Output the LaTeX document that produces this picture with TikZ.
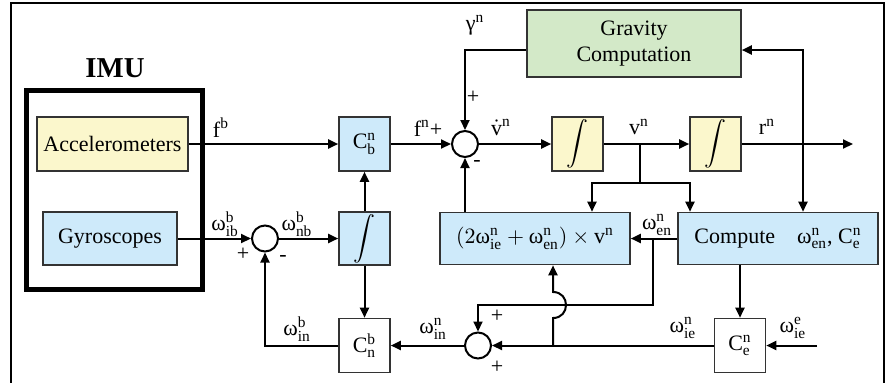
\documentclass[tikz,border=0pt]{standalone}
\usepackage{amsmath}
\usepackage{fontspec}
\setmainfont{Liberation Serif}
\usetikzlibrary{arrows.meta}
\definecolor{accyellow}{RGB}{251,247,204}
\definecolor{gyroblue}{RGB}{206,234,250}
\definecolor{gravgreen}{RGB}{211,233,200}
\definecolor{edgegray}{RGB}{51,51,51}
\newcommand{\sig}[2]{\ensuremath{\text{#1}^{\text{#2}}}}
\newcommand{\sigs}[3]{\ensuremath{\text{#1}^{\text{#2}}_{\text{#3}}}}

\begin{document}
\begin{tikzpicture}[
    x=0.5pt,y=-0.5pt,
    font=\fontsize{11}{13}\selectfont,
    box/.style={draw=edgegray,line width=0.8pt,inner sep=0pt,align=center},
    blk/.style={box,minimum width=25.5pt,minimum height=27pt},
    sum/.style={draw,circle,line width=1pt,minimum size=13pt,inner sep=0pt},
    lbl/.style={inner sep=0pt},
    line width=1pt,
    >={Triangle[length=5pt,width=4.5pt]}]
  \useasboundingbox (0,0) rectangle (894,382);
  \draw[line width=0.6pt] (11,392) -- (11,3) -- (884,3) -- (884,392);
  % IMU block
  \node[lbl,font=\fontsize{14.4}{16}\selectfont\bfseries] (imulbl) at (115,68) {IMU};
  \node[draw,line width=2.5pt,minimum width=88pt,minimum height=99.5pt] (imu) at (114.5,190) {};
  \node[box,fill=accyellow,minimum width=75.5pt,minimum height=27pt] (acc) at (112.5,144) {Accelerometers};
  \node[box,fill=gyroblue,minimum width=67pt,minimum height=26.5pt] (gyro) at (110,238.5) {Gyroscopes};
  % attitude
  \node[blk,fill=gyroblue] (cbn) at (364.5,144) {\sigs{C}{n}{b}};
  \node[blk,fill=gyroblue,minimum height=26.5pt] (intb) at (364.5,238.5) {$\displaystyle\int$};
  \node[blk,fill=white] (cnb) at (364.5,345.5) {\sigs{C}{b}{n}};
  \node[sum] (sum0) at (265,238.5) {};
  \node[sum] (sum1) at (465,144) {};
  \node[sum] (sum2) at (478,345.5) {};
  % velocity and position
  \node[box,fill=gravgreen,minimum width=107pt,minimum height=33.5pt] (grav) at (634,43.5) {Gravity\\Computation};
  \node[blk,fill=accyellow] (int1) at (577.5,144) {$\displaystyle\int$};
  \node[blk,fill=accyellow] (int2) at (715.5,144) {$\displaystyle\int$};
  \node[box,fill=gyroblue,minimum width=95pt,minimum height=26pt] (cor) at (535,238.5)
    {$(2\text{ω}^{\text{n}}_{\text{ie}}+\text{ω}^{\text{n}}_{\text{en}})\times\text{v}^{\text{n}}$};
  \node[box,fill=gyroblue,minimum width=100pt,minimum height=26pt] (comp) at (778,238.5)
    {Compute\quad\sigs{ω}{n}{en}, \sigs{C}{n}{e}};
  \node[blk,fill=white] (cen) at (740,345.5) {\sigs{C}{n}{e}};
  \coordinate (vb) at (640,144);
  \coordinate (vs) at (640,183);
  \coordinate (rb) at (803,144);
  \coordinate (out) at (853,144);
  \coordinate (eb) at (653,238.5);
  \coordinate (ib) at (553,345.5);
  \coordinate (hop) at (553,305);
  \coordinate (win) at (817,345.5);
  % labels
  \node[lbl] (fb) at (221,128) {\sig{f}{b}};
  \node[lbl] (fn) at (428,128) {\sig{f}{n}+};
  \node[lbl] (gam) at (475,25) {\sig{γ}{n}};
  \node[lbl] (p1) at (473,97) {+};
  \node[lbl] (m1) at (477,163) {-};
  \node[lbl] (vdot) at (501,127) {$\dot{\text{v}}^{\text{n}}$};
  \node[lbl] (vn) at (639,127) {\sig{v}{n}};
  \node[lbl] (rn) at (767,127) {\sig{r}{n}};
  \node[lbl] (wen) at (657,225) {\sigs{ω}{n}{en}};
  \node[lbl] (wie) at (683,328) {\sigs{ω}{n}{ie}};
  \node[lbl] (wiee) at (793,328) {\sigs{ω}{e}{ie}};
  \node[lbl] (p2) at (497,316) {+};
  \node[lbl] (p3) at (497,367) {+};
  \node[lbl] (win_l) at (433,329) {\sigs{ω}{n}{in}};
  \node[lbl] (winb) at (297,329) {\sigs{ω}{b}{in}};
  \node[lbl] (wib) at (225,224) {\sigs{ω}{b}{ib}};
  \node[lbl] (wnb) at (297,224) {\sigs{ω}{b}{nb}};
  \node[lbl] (p0) at (243,254) {+};
  \node[lbl] (m0) at (283,258) {-};
  % connectors
  \draw[->] (acc) -- (cbn);
  \draw[->] (cbn) -- (sum1);
  \draw[->] ([yshift=-3.25pt]grav.west) -| (sum1.north);
  \draw[->] (sum1) -- (int1);
  \draw[->] (int1) -- (int2);
  \draw (vb) -- (vs);
  \draw[->] (vs) -| ([xshift=28.5pt]cor.north);
  \draw[->] (vs) -| ([xshift=-44pt]comp.north);
  \draw[->] (int2) -- (out);
  \draw[->] (rb) |- ([yshift=-3.25pt]grav.east);
  \draw[->] (rb) -- (rb |- comp.north);
  \draw[->] (cor.north -| sum1) -- (sum1.south);
  \draw[->] (comp) -- (cor);
  \draw[->] (eb) |- (hop) -| (sum2.north);
  \draw[->] (cen) -- (sum2);
  \draw[->] (ib) -- ([yshift=-6.5pt]hop) .. controls +(8.67pt,0) and +(8.67pt,0) .. ([yshift=6.5pt]hop) -- (hop |- cor.south);
  \draw[->] (win) -- (cen);
  \draw[->] (sum2) -- (cnb);
  \draw[->] (cnb) -| (sum0.south);
  \draw[->] (gyro) -- (sum0);
  \draw[->] (sum0) -- (intb);
  \draw[->] (intb) -- (cbn);
  \draw[->] (intb) -- (cnb);
  \draw[->] (comp.south -| cen) -- (cen);
\end{tikzpicture}
\end{document}
